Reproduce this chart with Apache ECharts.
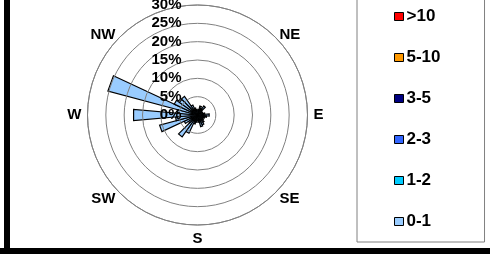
<!DOCTYPE html>
<html>
<head>
<meta charset="utf-8">
<script src="https://cdn.jsdelivr.net/npm/echarts@6/dist/echarts.min.js"></script>
<style>
  html, body { margin: 0; padding: 0; background: #fff; }
  #chart { width: 490px; height: 265px; }
</style>
</head>
<body>
<div id="chart"></div>
<script>
// wind direction bins (degrees from north, clockwise)
const directions = [0, 10, 20, 30, 40, 50, 60, 70, 80, 90, 100, 110,
  120, 130, 140, 150, 160, 170, 180, 190, 200, 210, 220, 230,
  240, 250, 260, 270, 280, 290, 300, 310, 320, 330, 340, 350];

// frequency (%) per speed class
const speed0to1 = [1.2, 1.5, 2.5, 2.0, 3.0, 1.5, 1.2, 1.5, 2.0, 3.2, 2.5, 2.0,
  1.5, 2.0, 2.5, 3.0, 3.3, 2.0, 1.5, 2.0, 2.5, 5.5, 7.3, 3.0,
  4.0, 10.7, 6.0, 17.5, 5.5, 25.3, 7.0, 6.0, 6.2, 3.0, 2.0, 1.5];
const speed1to2 = [0, 0, 0, 0, 0, 0, 0, 0, 0, 0, 0, 0, 0, 0, 0, 0, 0, 0,
  0, 0, 0, 0, 0, 0, 0, 0, 0, 0, 0, 0, 0, 0, 0, 0, 0, 0];
const speed2to3 = [0, 0, 0, 0, 0, 0, 0, 0, 0, 0, 0, 0, 0, 0, 0, 0, 0, 0,
  0, 0, 0, 0, 0, 0, 0, 0, 0, 0, 0, 0, 0, 0, 0, 0, 0, 0];
const speed3to5 = [0, 0, 0, 0, 0, 0, 0, 0, 0, 0, 0, 0, 0, 0, 0, 0, 0, 0,
  0, 0, 0, 0, 0, 0, 0, 0, 0, 0, 0, 0, 0, 0, 0, 0, 0, 0];
const speed5to10 = [0, 0, 0, 0, 0, 0, 0, 0, 0, 0, 0, 0, 0, 0, 0, 0, 0, 0,
  0, 0, 0, 0, 0, 0, 0, 0, 0, 0, 0, 0, 0, 0, 0, 0, 0, 0];
const speedOver10 = [0, 0, 0, 0, 0, 0, 0, 0, 0, 0, 0, 0, 0, 0, 0, 0, 0, 0,
  0, 0, 0, 0, 0, 0, 0, 0, 0, 0, 0, 0, 0, 0, 0, 0, 0, 0];

const classNames = ['0-1', '1-2', '2-3', '3-5', '5-10', '>10'];
const classColors = ['#99ccff', '#00ccff', '#3366ff', '#000080', '#ff9900', '#ff0000'];
const classData = [speed0to1, speed1to2, speed2to3, speed3to5, speed5to10, speedOver10];

const compassLabels = ['N', 'NE', 'E', 'SE', 'S', 'SW', 'W', 'NW'];
const radiusTicks = [0, 5, 10, 15, 20, 25, 30];

const myChart = echarts.init(document.getElementById('chart'), null, { renderer: 'canvas' });

// cumulative stacking, like a filled radar wind rose
const cumulative = [];
classData.forEach((arr, k) => {
  cumulative.push(arr.map((v, i) => (k === 0 ? 0 : cumulative[k - 1][i]) + v));
});

const half = 5; // half width of a bin in degrees

const series = classNames.map((name, k) => ({
  name: name,
  type: 'custom',
  coordinateSystem: 'polar',
  itemStyle: { color: classColors[k] },
  z: 10 - k,
  data: directions.map((d, i) => [
    k === 0 ? 0 : cumulative[k - 1][i],
    cumulative[k][i],
    d
  ]),
  renderItem: function (params, api) {
    const base = api.value(0);
    const top = api.value(1);
    const dir = api.value(2);
    if (top <= base) return null;
    const pts = [
      api.coord([base, dir - half]),
      api.coord([top, dir - half]),
      api.coord([top, dir + half]),
      api.coord([base, dir + half])
    ];
    return {
      type: 'polygon',
      shape: { points: pts },
      style: { fill: classColors[k], stroke: '#000', lineWidth: 1.2 }
    };
  }
}));

const option = {
  animation: false,
  textStyle: { fontFamily: 'Liberation Sans, Arial, sans-serif' },
  polar: { center: [197.5, 115], radius: 110 },
  angleAxis: {
    type: 'value',
    min: 0,
    max: 360,
    interval: 45,
    startAngle: 90,
    clockwise: true,
    axisLine: { show: true, lineStyle: { color: '#808080', width: 1 } },
    axisTick: { show: false },
    splitLine: { show: false },
    axisLabel: {
      margin: 6,
      fontSize: 15,
      fontWeight: 'bold',
      color: '#000',
      formatter: v => {
        if (v >= 360) return '';
        const name = compassLabels[v / 45];
        if (name === 'N') return '{n|N}';
        // diagonal labels sit closer to the horizontal axis
        return name.length > 1 ? '{d|' + name + '}' : name;
      },
      rich: {
        d: { fontSize: 15, fontWeight: 'bold', color: '#000', padding: [-7, 0, -10, 0] },
        n: { fontSize: 15, fontWeight: 'bold', color: '#000', padding: [0, 0, 24, 0] }
      }
    }
  },
  radiusAxis: {
    type: 'value',
    min: radiusTicks[0],
    max: radiusTicks[radiusTicks.length - 1],
    interval: 5,
    axisLine: { show: false },
    axisTick: { show: false },
    splitLine: { show: true, lineStyle: { color: '#808080', width: 1 } },
    axisLabel: {
      fontSize: 15,
      fontWeight: 'bold',
      color: '#000',
      margin: 16,
      formatter: '{value}%'
    },
    z: 20
  },
  legend: {
    orient: 'vertical',
    left: 357,
    top: -2,
    data: classNames.slice().reverse(),
    icon: 'rect',
    itemWidth: 9,
    itemHeight: 8,
    itemGap: 24,
    padding: [10, 44, 12, 37],
    borderColor: '#808080',
    borderWidth: 1,
    backgroundColor: '#fff',
    itemStyle: { borderColor: '#000', borderWidth: 1 },
    textStyle: { fontSize: 17, fontWeight: 'bold', color: '#000', padding: [0, 0, 0, -2] }
  },
  graphic: [
    { type: 'rect', left: 4, top: 0, shape: { width: 6, height: 252 }, style: { fill: '#000' } },
    { type: 'rect', left: 0, top: 248, shape: { width: 490, height: 6 }, style: { fill: '#000' } }
  ],
  series: series
};

myChart.setOption(option);
</script>
</body>
</html>
